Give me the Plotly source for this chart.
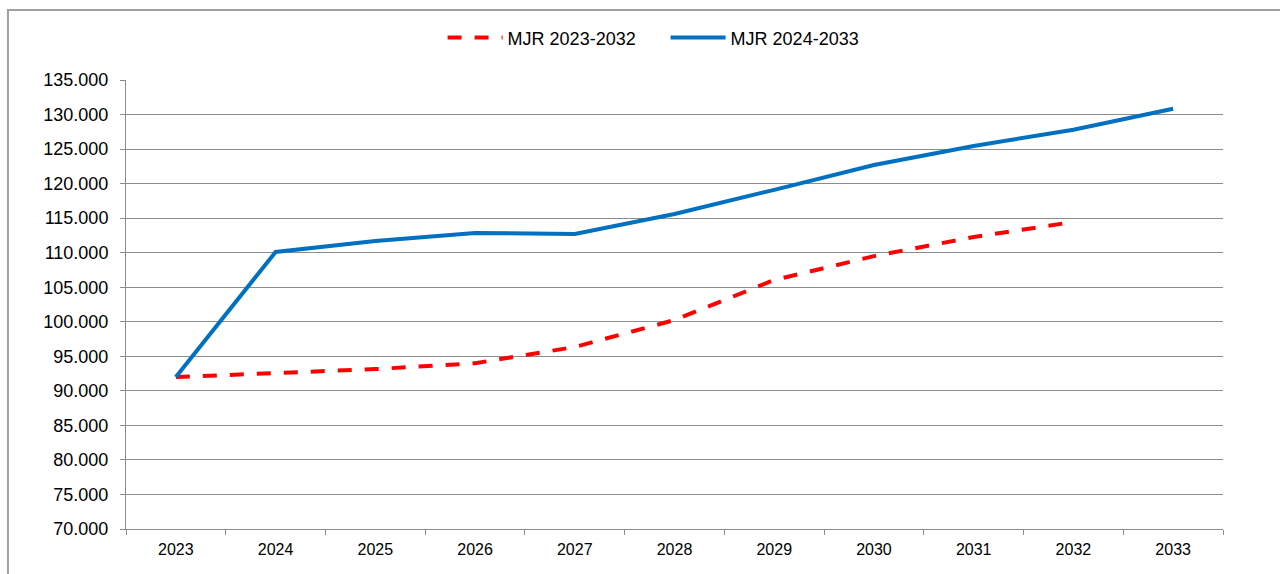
import plotly.graph_objects as go

years = ["2023", "2024", "2025", "2026", "2027", "2028", "2029", "2030", "2031", "2032", "2033"]
mjr_2023_2032 = [92000, 92600, 93150, 94000, 96350, 100250, 106050, 109500, 112270, 114450]
mjr_2024_2033 = [92000, 110100, 111700, 112850, 112700, 115600, 119100, 122700, 125450, 127800, 130850]
y_ticks = list(range(70000, 135001, 5000))

fig = go.Figure()
fig.add_trace(go.Scatter(
    x=years[:len(mjr_2023_2032)], y=mjr_2023_2032, mode="lines", name="MJR 2023-2032",
    line=dict(color="#FF0000", width=4, dash="14px,13px"),
))
fig.add_trace(go.Scatter(
    x=years, y=mjr_2024_2033, mode="lines", name="MJR 2024-2033",
    line=dict(color="#0070C0", width=4),
))

font = "Liberation Sans, Arial, sans-serif"
fig.update_layout(
    width=1280, height=574,
    margin=dict(l=126, r=57, t=80, b=45),
    paper_bgcolor="white", plot_bgcolor="white",
    separators=",.",
    font=dict(family=font, size=16, color="black"),
    showlegend=True,
    legend=dict(orientation="h", xref="container", yref="container", x=0.52, y=0.934,
                xanchor="center", yanchor="middle", font=dict(size=18, family=font),
                itemwidth=55, entrywidth=153, entrywidthmode="pixels", tracegroupgap=0),
    xaxis=dict(type="category", showgrid=False, showline=True, linecolor="#8c8c8c", linewidth=1,
               ticks="outside", tickson="boundaries", ticklen=5, tickcolor="#8c8c8c",
               tickfont=dict(size=16), ticklabelstandoff=6, range=[-0.5, 10.5]),
    yaxis=dict(range=[70000, 135000], tickvals=y_ticks, tickformat=",.0f",
               showgrid=True, gridcolor="#8c8c8c", gridwidth=1, showline=True,
               linecolor="#8c8c8c", linewidth=1, ticks="outside", ticklen=5,
               tickcolor="#8c8c8c", tickfont=dict(size=18), ticklabelstandoff=8,
               zeroline=False),
    shapes=[dict(type="rect", xref="paper", yref="paper", x0=-0.1076, y0=-0.2, x1=1.2, y1=1.1559,
                 line=dict(color="#a0a0a0", width=2), fillcolor="rgba(0,0,0,0)", layer="below")],
)

fig.write_html("out.html")
